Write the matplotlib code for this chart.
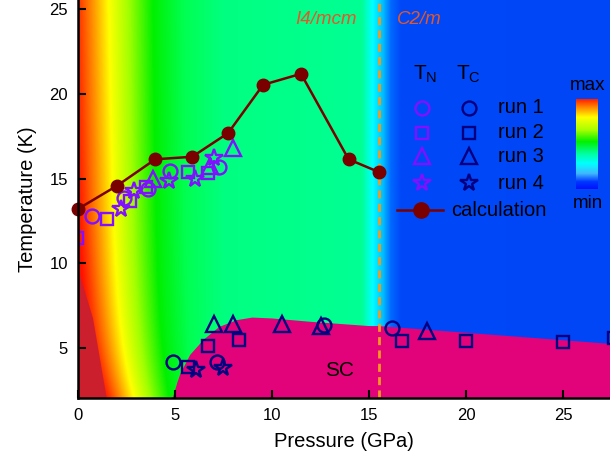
import numpy as np
import matplotlib
matplotlib.use("Agg")
import matplotlib.pyplot as plt
from matplotlib.colors import LinearSegmentedColormap

plt.rcParams["font.family"] = ["Liberation Sans", "DejaVu Sans"]
plt.rcParams["mathtext.fontset"] = "custom"
plt.rcParams["mathtext.rm"] = "Liberation Sans"
plt.rcParams["mathtext.it"] = "Liberation Sans:italic"

# calculated transition temperature
calc_p = [0.0, 2.05, 4.0, 5.9, 7.75, 9.55, 11.5, 13.95, 15.5]
calc_t = [13.2, 14.6, 16.15, 16.3, 17.7, 20.55, 21.2, 16.15, 15.4]

# T_N for each run
tn_run1_p = [0.77, 2.4, 3.65, 4.75, 7.3]
tn_run1_t = [12.8, 13.85, 14.4, 15.45, 15.7]
tn_run2_p = [-0.05, 1.5, 2.7, 3.5, 5.7, 6.7]
tn_run2_t = [11.5, 12.65, 13.7, 14.5, 15.4, 15.35]
tn_run3_p = [3.9, 6.8, 8.0]
tn_run3_t = [15.0, 15.75, 16.8]
tn_run4_p = [2.25, 2.9, 4.7, 6.05, 7.0]
tn_run4_t = [13.2, 14.3, 14.85, 15.0, 16.2]

# T_c for each run
tc_run1_p = [4.9, 7.2, 12.7, 16.2]
tc_run1_t = [4.2, 4.2, 6.35, 6.2]
tc_run2_p = [5.7, 6.7, 8.3, 16.7, 20.0, 25.0, 27.6]
tc_run2_t = [3.9, 5.15, 5.5, 5.4, 5.4, 5.35, 5.6]
tc_run3_p = [7.0, 8.0, 10.5, 12.55, 18.0]
tc_run3_t = [6.4, 6.4, 6.4, 6.3, 6.0]
tc_run4_p = [6.1, 7.5]
tc_run4_t = [3.7, 3.85]

# superconducting dome boundary and low-pressure region
sc_p = [4.9, 5.15, 5.3, 5.8, 6.5, 7.3, 8.2, 9.0, 10.0, 12.0, 15.0, 15.5, 27.4, 27.4]
sc_t = [2.05, 3.0, 3.5, 4.6, 5.5, 6.25, 6.65, 6.8, 6.75, 6.55, 6.3, 6.3, 5.25, 2.05]
low_p = [0.0, 0.8, 1.5, 0.0]
low_t = [9.8, 6.75, 2.05, 2.05]

p_boundary = 15.5
xmin, xmax = 0, 27.4
ymin, ymax = 2.05, 25.56

fig = plt.figure(figsize=(6.1, 4.63), dpi=100)
ax = fig.add_axes([77.5 / 610, 65 / 463, 532.5 / 610, 398 / 463])

# background field
stops = [(-2.0, "#ff0000"), (0.0, "#ff1200"), (0.4, "#ff4000"), (1.0, "#ff9000"),
         (1.8, "#ffff00"), (2.8, "#a0ff00"), (4.0, "#00f000"), (5.5, "#00ff50"),
         (7.5, "#00ff80"), (14.6, "#00ff94"), (15.15, "#00ffff"), (15.65, "#00c4ff"),
         (16.1, "#0068ff"), (16.6, "#0048f8"), (27.4, "#0046f6")]
lo, hi = stops[0][0], stops[-1][0]
bg_cmap = LinearSegmentedColormap.from_list(
    "bg", [((v - lo) / (hi - lo), c) for v, c in stops], N=2048)
pp, tt = np.meshgrid(np.linspace(xmin, xmax, 900), np.linspace(ymin, ymax, 500))
bend = 1.5 * np.exp(-(tt - ymin) / 3.5) - 0.02 * (tt - 10)
field = pp - bend * np.clip(1 - pp / 8, 0, 1)
ax.imshow(field, extent=[xmin, xmax, ymin, ymax], origin="lower", aspect="auto",
          cmap=bg_cmap, vmin=lo, vmax=hi, interpolation="bilinear", zorder=0)

ax.fill(low_p, low_t, color="#cc1f2e", lw=0, zorder=1)
ax.fill(sc_p, sc_t, color="#e2027a", lw=0, zorder=1)

ax.axvline(p_boundary, color="#f39a1e", lw=2.0, dashes=(2.9, 1.9), zorder=2)

tn_col = "#8010ff"
tc_col = "#000080"
mk = dict(ls="none", mfc="none", mew=1.7, zorder=4)
ax.plot(tn_run1_p, tn_run1_t, marker="o", ms=10, mec=tn_col, **mk)
ax.plot(tn_run2_p, tn_run2_t, marker="s", ms=9, mec=tn_col, **mk)
ax.plot(tn_run3_p, tn_run3_t, marker="^", ms=11, mec=tn_col, **mk)
ax.plot(tn_run4_p, tn_run4_t, marker="*", ms=13, mec=tn_col, **mk)
ax.plot(tc_run1_p, tc_run1_t, marker="o", ms=10, mec=tc_col, **mk)
ax.plot(tc_run2_p, tc_run2_t, marker="s", ms=9, mec=tc_col, **mk)
ax.plot(tc_run3_p, tc_run3_t, marker="^", ms=11, mec=tc_col, **mk)
ax.plot(tc_run4_p, tc_run4_t, marker="*", ms=13, mec=tc_col, **mk)

calc_col = "#7a0000"
ax.plot(calc_p, calc_t, color=calc_col, lw=1.8, marker="o", ms=9, zorder=5, clip_on=False)

ax.text(12.8, 24.4, "I4/mcm", color="#e2582a", fontsize=13.5, style="italic",
        ha="center", va="center")
ax.text(17.6, 24.4, "C2/m", color="#e2582a", fontsize=13.5, style="italic",
        ha="center", va="center")
ax.text(13.5, 3.7, "SC", fontsize=15, ha="center", va="center")

# hand-built legend
tr = ax.transAxes
ax.text(0.653, 0.812, r"T$_\mathrm{N}$", transform=tr, fontsize=15, ha="center", va="center")
ax.text(0.735, 0.812, r"T$_\mathrm{C}$", transform=tr, fontsize=15, ha="center", va="center")
rows = [0.729, 0.666, 0.608, 0.540]
shapes = [("o", 10), ("s", 9), ("^", 11), ("*", 13)]
for i, (y, (m, s)) in enumerate(zip(rows, shapes)):
    ax.plot([0.647], [y], transform=tr, marker=m, ms=s, mec=tn_col, clip_on=False, **mk)
    ax.plot([0.735], [y], transform=tr, marker=m, ms=s, mec=tc_col, clip_on=False, **mk)
    ax.text(0.79, y, f"run {i + 1}", transform=tr, fontsize=14.5, ha="left", va="center")
ax.plot([0.6, 0.686], [0.472, 0.472], transform=tr, color=calc_col, lw=1.8, zorder=5)
ax.plot([0.645], [0.472], transform=tr, color=calc_col, marker="o", ms=11, zorder=5)
ax.text(0.701, 0.472, "calculation", transform=tr, fontsize=14.5, ha="left", va="center")

ax.set_xlim(xmin, xmax)
ax.set_ylim(ymin, ymax)
ax.set_xticks([0, 5, 10, 15, 20, 25])
ax.set_yticks([5, 10, 15, 20, 25])
ax.tick_params(direction="in", length=6, width=1.5, labelsize=12, pad=7)
for side in ["top", "right"]:
    ax.spines[side].set_visible(False)
for side in ["left", "bottom"]:
    ax.spines[side].set_linewidth(1.8)
    ax.spines[side].set_zorder(6)
ax.set_xlabel("Pressure (GPa)", fontsize=14.5, labelpad=7)
ax.set_ylabel("Temperature (K)", fontsize=14.5, labelpad=9)

# min/max scale bar
cax = fig.add_axes([576 / 610, 274 / 463, 22 / 610, 90 / 463])
bar_cmap = LinearSegmentedColormap.from_list("bar", [
    (0.0, "#0010ff"), (0.08, "#0038ff"), (0.17, "#40b8ff"), (0.28, "#00ffff"),
    (0.39, "#00ffa0"), (0.52, "#00f000"), (0.65, "#a8ff00"), (0.79, "#ffff00"),
    (0.9, "#ff8800"), (1.0, "#ff1000")])
cax.imshow(np.linspace(0, 1, 256)[:, None], origin="lower", aspect="auto", cmap=bar_cmap)
cax.axis("off")
fig.text(588 / 610, 377 / 463, "max", fontsize=13.5, ha="center", va="center")
fig.text(588 / 610, 260 / 463, "min", fontsize=13.5, ha="center", va="center")

fig.savefig("out.png", dpi=100)
